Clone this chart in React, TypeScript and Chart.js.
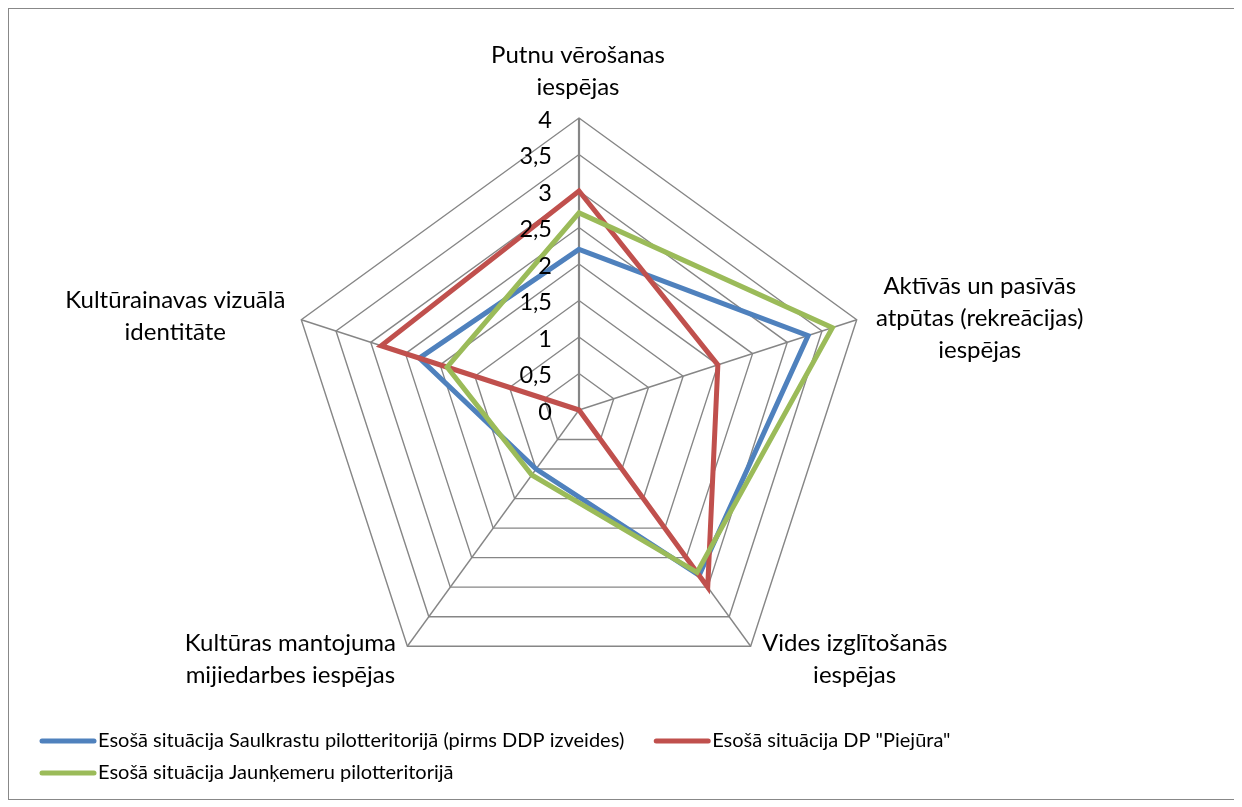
import React, { useEffect, useRef } from "react";
import { Chart, registerables } from "chart.js";

Chart.register(...registerables);

// ---- data ----
const categories: string[][] = [
  ["Putnu vērošanas", "iespējas"],
  ["Aktīvās un pasīvās", "atpūtas (rekreācijas)", "iespējas"],
  ["Vides izglītošanās", "iespējas"],
  ["Kultūras mantojuma", "mijiedarbes iespējas"],
  ["Kultūrainavas vizuālā", "identitāte"],
];

const seriesNames: string[] = [
  "Esošā situācija Saulkrastu pilotteritorijā (pirms DDP izveides)",
  'Esošā situācija DP "Piejūra"',
  "Esošā situācija Jaunķemeru pilotteritorijā",
];

const saulkrastiValues: number[] = [2.2, 3.3, 2.8, 1.0, 2.3];
const piejuraValues: number[] = [3.0, 2.0, 3.0, 0.0, 2.85];
const jaunkemeriValues: number[] = [2.7, 3.65, 2.75, 1.1, 1.9];

const seriesColors: string[] = ["#4F81BD", "#C0504D", "#9BBB59"];

const scaleMin = 0;
const scaleMax = 4;
const scaleStep = 0.5;

// ---- styling / layout constants ----
const FONT = "Lato, 'Open Sans', sans-serif";
const TICK_FONT_SIZE = 23.5;
const LABEL_FONT_SIZE = 24;
const LABEL_LINE_H = 32;
const LEGEND_FONT_SIZE = 20;
const GRID_COLOR = "#868686";
// offsets of each category label block centre from its outer vertex
const labelOffsets: [number, number][] = [
  [-1, -47],
  [123, -2],
  [104, 13],
  [-117, 13],
  [-126, -4],
];

const formatTick = (v: number) => String(v).replace(".", ",");

const excelPlugin = {
  id: "excelRadarDecor",
  beforeDatasetsDraw(chart: any) {
    const s = chart.scales.r;
    const ctx = chart.ctx;
    const top = s.getPointPosition(0, s.drawingArea);
    ctx.save();
    ctx.strokeStyle = GRID_COLOR;
    ctx.lineWidth = 2.2;
    ctx.beginPath();
    ctx.moveTo(s.xCenter, s.yCenter);
    ctx.lineTo(top.x, top.y);
    ctx.stroke();
    ctx.restore();
  },
  afterDraw(chart: any) {
    const s = chart.scales.r;
    const ctx = chart.ctx;
    ctx.save();
    ctx.fillStyle = "#000000";
    // value-axis tick labels
    ctx.font = `${TICK_FONT_SIZE}px ${FONT}`;
    ctx.textAlign = "right";
    ctx.textBaseline = "middle";
    s.ticks.forEach((t: any) => {
      const d = s.getDistanceFromCenterForValue(t.value);
      ctx.fillText(formatTick(t.value), s.xCenter - 27, s.yCenter - d + 2);
    });
    // category labels
    ctx.font = `${LABEL_FONT_SIZE}px ${FONT}`;
    ctx.textAlign = "center";
    categories.forEach((lines, i) => {
      const p = s.getPointPosition(i, s.drawingArea);
      const [dx, dy] = labelOffsets[i];
      const cx = p.x + dx;
      const cy = p.y + dy;
      const n = lines.length;
      lines.forEach((ln, k) => {
        ctx.fillText(ln, cx, cy + (k - (n - 1) / 2) * LABEL_LINE_H);
      });
    });
    // legend
    ctx.font = `${LEGEND_FONT_SIZE}px ${FONT}`;
    ctx.textAlign = "left";
    const rows: number[][] = [[0, 1], [2]];
    const startX = 31;
    const startY = 732;
    rows.forEach((row, r) => {
      let x = startX;
      const y = startY + r * 32;
      row.forEach((di) => {
        const ds = chart.data.datasets[di];
        ctx.strokeStyle = ds.borderColor;
        ctx.lineWidth = 5;
        ctx.lineCap = "round";
        ctx.beginPath();
        ctx.moveTo(x + 2, y);
        ctx.lineTo(x + 54, y);
        ctx.stroke();
        ctx.fillText(ds.label, x + 58, y);
        x += 58 + ctx.measureText(ds.label).width + 30;
      });
    });
    ctx.restore();
  },
};

export default function App() {
  const canvasRef = useRef<HTMLCanvasElement | null>(null);

  useEffect(() => {
    if (!canvasRef.current) return;
    const valueSets = [saulkrastiValues, piejuraValues, jaunkemeriValues];
    const chart = new Chart(canvasRef.current, {
      type: "radar",
      data: {
        labels: categories.map((c) => c.join(" ")),
        datasets: valueSets.map((vals, i) => ({
          label: seriesNames[i],
          data: vals,
          borderColor: seriesColors[i],
          backgroundColor: seriesColors[i],
          borderWidth: 5,
          fill: false,
          pointRadius: 0,
          pointHoverRadius: 0,
          order: 3 - i,
        })),
      },
      options: {
        animation: false,
        responsive: true,
        maintainAspectRatio: false,
        layout: { padding: { left: 278, right: 366, top: 109, bottom: 97 } },
        plugins: {
          legend: { display: false },
          tooltip: { enabled: false },
          title: { display: false },
        },
        elements: { line: { tension: 0, borderJoinStyle: "miter" } },
        scales: {
          r: {
            min: scaleMin,
            max: scaleMax,
            ticks: { stepSize: scaleStep, display: false },
            grid: { color: GRID_COLOR, lineWidth: 1.4 },
            angleLines: { color: GRID_COLOR, lineWidth: 1.4 },
            pointLabels: { display: false },
          },
        },
      } as any,
      plugins: [excelPlugin],
    });
    return () => chart.destroy();
  }, []);

  return (
    <div
      style={{
        width: 1230,
        height: 792,
        border: "1px solid #888888",
        boxSizing: "border-box",
        background: "#ffffff",
      }}
    >
      <div style={{ position: "relative", width: 1228, height: 790 }}>
        <canvas ref={canvasRef} />
      </div>
    </div>
  );
}
